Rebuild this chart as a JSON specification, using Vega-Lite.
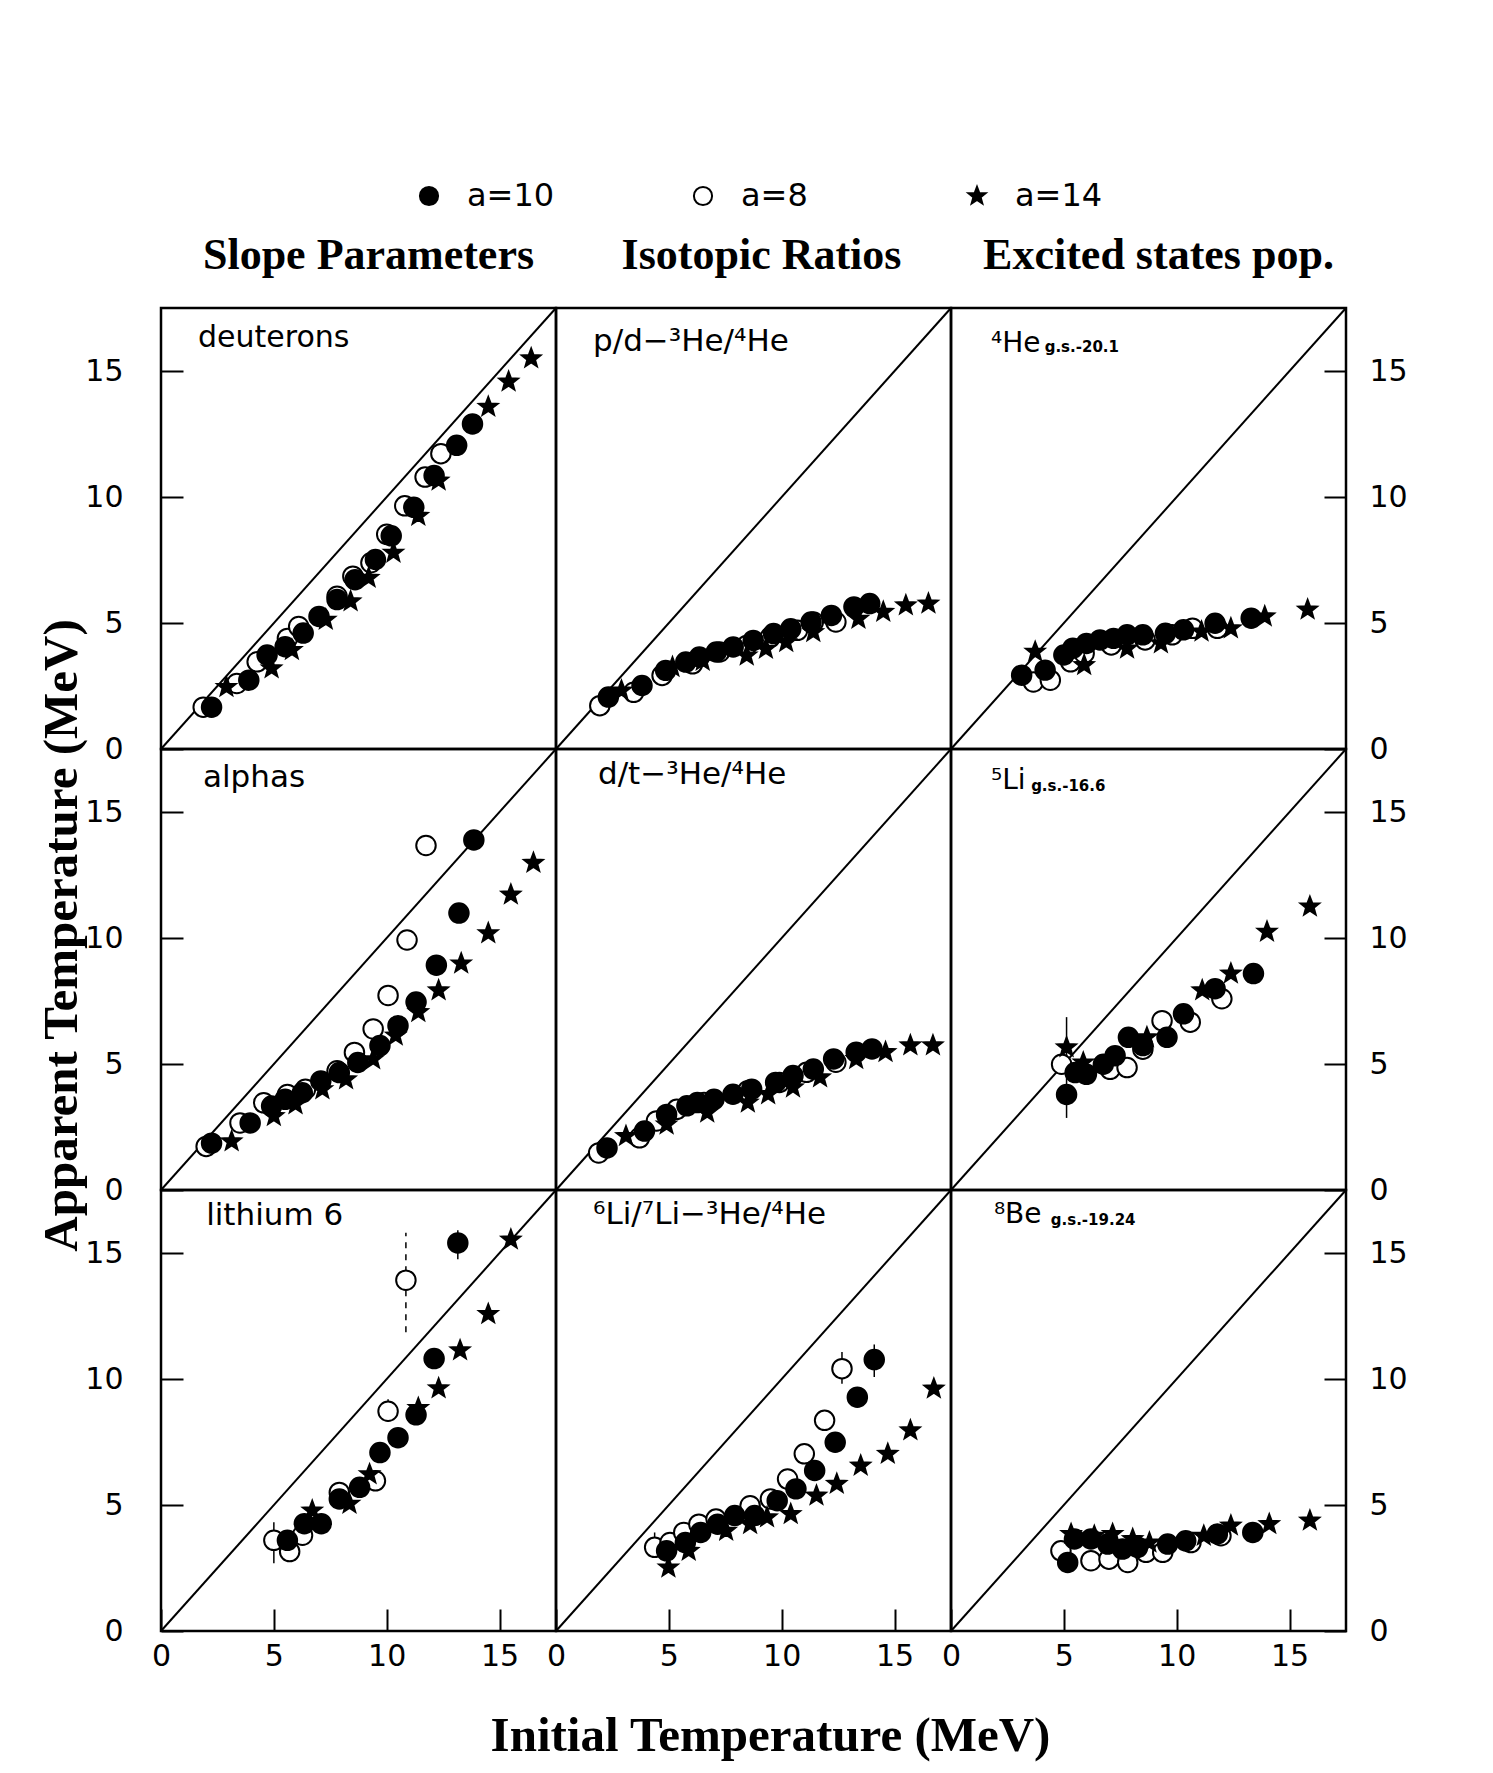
{
  "$schema": "https://vega.github.io/schema/vega-lite/v6.json",
  "background": "white",
  "padding": {"left": 35, "top": 180, "right": 5, "bottom": 5},
  "autosize": {"type": "pad"},
  "config": {
    "view": {"stroke": "black", "strokeWidth": 2.5},
    "axis": {"domain": false, "grid": false, "tickColor": "black", "tickWidth": 2, "labelFont": "DejaVu Sans", "labelFontSize": 30, "labelColor": "black", "labelFlush": false, "labelOverlap": false, "titleColor": "black", "titleFont": "Liberation Serif", "titleFontWeight": "bold", "titleFontSize": 49},
    "title": {"font": "Liberation Serif", "fontWeight": "bold", "fontSize": 44, "color": "black"},
    "legend": {"orient": "none", "direction": "horizontal", "legendX": 252, "legendY": -128, "padding": 0, "symbolSize": 330, "symbolStrokeWidth": 2, "labelFont": "DejaVu Sans", "labelFontSize": 32, "labelColor": "black", "labelOffset": 22, "columnPadding": 132, "gridAlign": "all"}
  },
  "data": {"values": [
    {"p":"d","s":"a=8","x":1.87,"y":1.66},{"p":"d","s":"a=8","x":3.36,"y":2.6},{"p":"d","s":"a=8","x":4.26,"y":3.46},{"p":"d","s":"a=8","x":5.6,"y":4.39},{"p":"d","s":"a=8","x":6.1,"y":4.86},{"p":"d","s":"a=8","x":7.8,"y":6.06},{"p":"d","s":"a=8","x":8.5,"y":6.86},{"p":"d","s":"a=8","x":9.3,"y":7.39},{"p":"d","s":"a=8","x":10.0,"y":8.52},{"p":"d","s":"a=8","x":10.8,"y":9.65},{"p":"d","s":"a=8","x":11.7,"y":10.79},{"p":"d","s":"a=8","x":12.4,"y":11.72},
    {"p":"d","s":"a=14","x":2.9,"y":2.46},{"p":"d","s":"a=14","x":4.9,"y":3.2},{"p":"d","s":"a=14","x":5.8,"y":3.93},{"p":"d","s":"a=14","x":7.3,"y":5.13},{"p":"d","s":"a=14","x":8.4,"y":5.86},{"p":"d","s":"a=14","x":9.2,"y":6.79},{"p":"d","s":"a=14","x":10.3,"y":7.79},{"p":"d","s":"a=14","x":11.4,"y":9.25},{"p":"d","s":"a=14","x":12.3,"y":10.65},{"p":"d","s":"a=14","x":14.5,"y":13.58},{"p":"d","s":"a=14","x":15.4,"y":14.58},{"p":"d","s":"a=14","x":16.4,"y":15.5},
    {"p":"d","s":"a=10","x":2.24,"y":1.66},{"p":"d","s":"a=10","x":3.89,"y":2.73},{"p":"d","s":"a=10","x":4.7,"y":3.73},{"p":"d","s":"a=10","x":5.5,"y":4.06},{"p":"d","s":"a=10","x":6.3,"y":4.6},{"p":"d","s":"a=10","x":7.0,"y":5.26},{"p":"d","s":"a=10","x":7.8,"y":5.93},{"p":"d","s":"a=10","x":8.6,"y":6.72},{"p":"d","s":"a=10","x":9.5,"y":7.52},{"p":"d","s":"a=10","x":10.2,"y":8.46},{"p":"d","s":"a=10","x":11.2,"y":9.59},{"p":"d","s":"a=10","x":12.1,"y":10.85},{"p":"d","s":"a=10","x":13.1,"y":12.05},{"p":"d","s":"a=10","x":13.8,"y":12.9},

    {"p":"pd","s":"a=8","x":1.94,"y":1.72},{"p":"pd","s":"a=8","x":3.44,"y":2.25},{"p":"pd","s":"a=8","x":4.7,"y":2.92},{"p":"pd","s":"a=8","x":6.05,"y":3.38},{"p":"pd","s":"a=8","x":7.25,"y":3.85},{"p":"pd","s":"a=8","x":8.45,"y":4.11},{"p":"pd","s":"a=8","x":9.5,"y":4.44},{"p":"pd","s":"a=8","x":10.7,"y":4.71},{"p":"pd","s":"a=8","x":11.4,"y":5.04},{"p":"pd","s":"a=8","x":12.4,"y":5.04},
    {"p":"pd","s":"a=14","x":2.9,"y":2.32},{"p":"pd","s":"a=14","x":5.16,"y":3.25},{"p":"pd","s":"a=14","x":6.5,"y":3.5},{"p":"pd","s":"a=14","x":8.45,"y":3.71},{"p":"pd","s":"a=14","x":9.3,"y":3.98},{"p":"pd","s":"a=14","x":10.2,"y":4.24},{"p":"pd","s":"a=14","x":11.4,"y":4.64},{"p":"pd","s":"a=14","x":13.4,"y":5.17},{"p":"pd","s":"a=14","x":14.5,"y":5.44},{"p":"pd","s":"a=14","x":15.5,"y":5.7},{"p":"pd","s":"a=14","x":16.5,"y":5.77},
    {"p":"pd","s":"a=10","x":2.32,"y":2.06},{"p":"pd","s":"a=10","x":3.81,"y":2.52},{"p":"pd","s":"a=10","x":4.86,"y":3.12},{"p":"pd","s":"a=10","x":5.75,"y":3.45},{"p":"pd","s":"a=10","x":6.35,"y":3.65},{"p":"pd","s":"a=10","x":7.1,"y":3.85},{"p":"pd","s":"a=10","x":7.85,"y":4.05},{"p":"pd","s":"a=10","x":8.74,"y":4.31},{"p":"pd","s":"a=10","x":9.64,"y":4.58},{"p":"pd","s":"a=10","x":10.4,"y":4.77},{"p":"pd","s":"a=10","x":11.3,"y":5.04},{"p":"pd","s":"a=10","x":12.2,"y":5.3},{"p":"pd","s":"a=10","x":13.2,"y":5.64},{"p":"pd","s":"a=10","x":13.9,"y":5.77},

    {"p":"he4","s":"a=8","x":3.65,"y":2.66},{"p":"he4","s":"a=8","x":4.4,"y":2.73},{"p":"he4","s":"a=8","x":5.3,"y":3.46},{"p":"he4","s":"a=8","x":5.9,"y":3.8},{"p":"he4","s":"a=8","x":7.1,"y":4.13},{"p":"he4","s":"a=8","x":8.6,"y":4.33},{"p":"he4","s":"a=8","x":9.8,"y":4.53},{"p":"he4","s":"a=8","x":10.7,"y":4.79},{"p":"he4","s":"a=8","x":11.8,"y":4.79},
    {"p":"he4","s":"a=14","x":3.73,"y":3.86},{"p":"he4","s":"a=14","x":5.9,"y":3.33},{"p":"he4","s":"a=14","x":7.8,"y":3.99},{"p":"he4","s":"a=14","x":9.3,"y":4.19},{"p":"he4","s":"a=14","x":11.1,"y":4.66},{"p":"he4","s":"a=14","x":12.4,"y":4.79},{"p":"he4","s":"a=14","x":13.9,"y":5.26},{"p":"he4","s":"a=14","x":15.8,"y":5.53},
    {"p":"he4","s":"a=10","x":3.13,"y":2.93},{"p":"he4","s":"a=10","x":4.17,"y":3.13},{"p":"he4","s":"a=10","x":5.0,"y":3.73},{"p":"he4","s":"a=10","x":5.4,"y":4.0},{"p":"he4","s":"a=10","x":6.0,"y":4.19},{"p":"he4","s":"a=10","x":6.6,"y":4.33},{"p":"he4","s":"a=10","x":7.2,"y":4.39},{"p":"he4","s":"a=10","x":7.8,"y":4.53},{"p":"he4","s":"a=10","x":8.5,"y":4.53},{"p":"he4","s":"a=10","x":9.5,"y":4.59},{"p":"he4","s":"a=10","x":10.3,"y":4.73},{"p":"he4","s":"a=10","x":11.7,"y":4.99},{"p":"he4","s":"a=10","x":13.3,"y":5.19},

    {"p":"al","s":"a=8","x":2.0,"y":1.73},{"p":"al","s":"a=8","x":3.5,"y":2.66},{"p":"al","s":"a=8","x":4.55,"y":3.46},{"p":"al","s":"a=8","x":5.6,"y":3.79},{"p":"al","s":"a=8","x":6.4,"y":4.0},{"p":"al","s":"a=8","x":7.8,"y":4.73},{"p":"al","s":"a=8","x":8.57,"y":5.46},{"p":"al","s":"a=8","x":9.4,"y":6.39},{"p":"al","s":"a=8","x":10.06,"y":7.72},{"p":"al","s":"a=8","x":10.9,"y":9.92},{"p":"al","s":"a=8","x":11.74,"y":13.67},
    {"p":"al","s":"a=14","x":3.13,"y":1.93},{"p":"al","s":"a=14","x":5.0,"y":2.93},{"p":"al","s":"a=14","x":5.96,"y":3.4},{"p":"al","s":"a=14","x":7.15,"y":4.0},{"p":"al","s":"a=14","x":8.2,"y":4.39},{"p":"al","s":"a=14","x":9.4,"y":5.19},{"p":"al","s":"a=14","x":10.4,"y":6.13},{"p":"al","s":"a=14","x":11.4,"y":7.06},{"p":"al","s":"a=14","x":12.3,"y":7.92},{"p":"al","s":"a=14","x":13.3,"y":8.99},{"p":"al","s":"a=14","x":14.5,"y":10.19},{"p":"al","s":"a=14","x":15.5,"y":11.72},{"p":"al","s":"a=14","x":16.5,"y":12.98},
    {"p":"al","s":"a=10","x":2.24,"y":1.86},{"p":"al","s":"a=10","x":3.95,"y":2.66},{"p":"al","s":"a=10","x":4.9,"y":3.33},{"p":"al","s":"a=10","x":5.5,"y":3.6},{"p":"al","s":"a=10","x":6.26,"y":3.86},{"p":"al","s":"a=10","x":7.08,"y":4.33},{"p":"al","s":"a=10","x":7.9,"y":4.66},{"p":"al","s":"a=10","x":8.72,"y":5.06},{"p":"al","s":"a=10","x":9.7,"y":5.73},{"p":"al","s":"a=10","x":10.5,"y":6.52},{"p":"al","s":"a=10","x":11.3,"y":7.46},{"p":"al","s":"a=10","x":12.2,"y":8.92},{"p":"al","s":"a=10","x":13.2,"y":10.99},{"p":"al","s":"a=10","x":13.86,"y":13.89},

    {"p":"dt","s":"a=8","x":1.89,"y":1.47},{"p":"dt","s":"a=8","x":3.7,"y":2.07},{"p":"dt","s":"a=8","x":4.45,"y":2.74},{"p":"dt","s":"a=8","x":5.35,"y":3.2},{"p":"dt","s":"a=8","x":6.56,"y":3.47},{"p":"dt","s":"a=8","x":8.5,"y":3.94},{"p":"dt","s":"a=8","x":9.9,"y":4.27},{"p":"dt","s":"a=8","x":11.1,"y":4.67},{"p":"dt","s":"a=8","x":12.4,"y":5.07},
    {"p":"dt","s":"a=14","x":3.1,"y":2.14},{"p":"dt","s":"a=14","x":4.9,"y":2.6},{"p":"dt","s":"a=14","x":6.7,"y":3.07},{"p":"dt","s":"a=14","x":8.5,"y":3.47},{"p":"dt","s":"a=14","x":9.4,"y":3.8},{"p":"dt","s":"a=14","x":10.5,"y":4.07},{"p":"dt","s":"a=14","x":11.7,"y":4.47},{"p":"dt","s":"a=14","x":13.3,"y":5.2},{"p":"dt","s":"a=14","x":14.6,"y":5.47},{"p":"dt","s":"a=14","x":15.7,"y":5.74},{"p":"dt","s":"a=14","x":16.7,"y":5.74},
    {"p":"dt","s":"a=10","x":2.26,"y":1.67},{"p":"dt","s":"a=10","x":3.92,"y":2.34},{"p":"dt","s":"a=10","x":4.9,"y":3.0},{"p":"dt","s":"a=10","x":5.8,"y":3.34},{"p":"dt","s":"a=10","x":6.26,"y":3.47},{"p":"dt","s":"a=10","x":7.0,"y":3.6},{"p":"dt","s":"a=10","x":7.84,"y":3.8},{"p":"dt","s":"a=10","x":8.67,"y":4.0},{"p":"dt","s":"a=10","x":9.73,"y":4.27},{"p":"dt","s":"a=10","x":10.5,"y":4.54},{"p":"dt","s":"a=10","x":11.4,"y":4.8},{"p":"dt","s":"a=10","x":12.3,"y":5.2},{"p":"dt","s":"a=10","x":13.3,"y":5.47},{"p":"dt","s":"a=10","x":14.0,"y":5.6},

    {"p":"li5","s":"a=8","x":4.9,"y":4.99},{"p":"li5","s":"a=8","x":7.05,"y":4.79},{"p":"li5","s":"a=8","x":7.8,"y":4.86},{"p":"li5","s":"a=8","x":8.5,"y":5.59},{"p":"li5","s":"a=8","x":9.35,"y":6.72},{"p":"li5","s":"a=8","x":10.6,"y":6.66},{"p":"li5","s":"a=8","x":12.0,"y":7.59},
    {"p":"li5","s":"a=14","x":5.12,"y":5.66,"lo":4.6,"hi":6.86},{"p":"li5","s":"a=14","x":5.86,"y":5.06},{"p":"li5","s":"a=14","x":8.68,"y":6.06},{"p":"li5","s":"a=14","x":11.13,"y":7.92},{"p":"li5","s":"a=14","x":12.4,"y":8.59},{"p":"li5","s":"a=14","x":14.0,"y":10.25},{"p":"li5","s":"a=14","x":15.9,"y":11.25},
    {"p":"li5","s":"a=10","x":5.12,"y":3.79,"lo":2.86,"hi":4.6},{"p":"li5","s":"a=10","x":5.5,"y":4.66},{"p":"li5","s":"a=10","x":6.0,"y":4.59},{"p":"li5","s":"a=10","x":6.75,"y":4.99},{"p":"li5","s":"a=10","x":7.27,"y":5.33},{"p":"li5","s":"a=10","x":7.86,"y":6.06},{"p":"li5","s":"a=10","x":8.5,"y":5.73},{"p":"li5","s":"a=10","x":9.57,"y":6.06},{"p":"li5","s":"a=10","x":10.3,"y":6.99},{"p":"li5","s":"a=10","x":11.7,"y":7.99},{"p":"li5","s":"a=10","x":13.4,"y":8.59},

    {"p":"li6","s":"a=8","x":5.0,"y":3.6,"lo":2.69,"hi":4.32},{"p":"li6","s":"a=8","x":5.7,"y":3.15},{"p":"li6","s":"a=8","x":6.27,"y":3.8},{"p":"li6","s":"a=8","x":7.9,"y":5.5},{"p":"li6","s":"a=8","x":9.5,"y":5.96},{"p":"li6","s":"a=8","x":10.06,"y":8.72,"lo":8.3,"hi":9.2},{"p":"li6","s":"a=8","x":10.85,"y":13.92,"lo":11.86,"hi":15.8},
    {"p":"li6","s":"a=14","x":6.7,"y":4.78},{"p":"li6","s":"a=14","x":8.35,"y":5.05},{"p":"li6","s":"a=14","x":9.24,"y":6.22},{"p":"li6","s":"a=14","x":11.4,"y":8.85},{"p":"li6","s":"a=14","x":12.3,"y":9.63},{"p":"li6","s":"a=14","x":13.25,"y":11.14},{"p":"li6","s":"a=14","x":14.5,"y":12.58},{"p":"li6","s":"a=14","x":15.5,"y":15.53},
    {"p":"li6","s":"a=10","x":5.6,"y":3.6},{"p":"li6","s":"a=10","x":6.35,"y":4.26},{"p":"li6","s":"a=10","x":7.1,"y":4.26},{"p":"li6","s":"a=10","x":7.9,"y":5.24},{"p":"li6","s":"a=10","x":8.8,"y":5.7},{"p":"li6","s":"a=10","x":9.7,"y":7.08},{"p":"li6","s":"a=10","x":10.5,"y":7.67},{"p":"li6","s":"a=10","x":11.3,"y":8.58},{"p":"li6","s":"a=10","x":12.1,"y":10.81},{"p":"li6","s":"a=10","x":13.15,"y":15.4,"lo":14.75,"hi":15.9},

    {"p":"lili","s":"a=8","x":4.37,"y":3.32,"lo":3.0,"hi":3.91},{"p":"lili","s":"a=8","x":5.05,"y":3.51},{"p":"lili","s":"a=8","x":5.66,"y":3.91},{"p":"lili","s":"a=8","x":6.33,"y":4.24},{"p":"lili","s":"a=8","x":7.09,"y":4.44},{"p":"lili","s":"a=8","x":8.6,"y":4.97},{"p":"lili","s":"a=8","x":9.5,"y":5.24},{"p":"lili","s":"a=8","x":10.26,"y":6.03},{"p":"lili","s":"a=8","x":11.0,"y":7.03},{"p":"lili","s":"a=8","x":11.9,"y":8.36},{"p":"lili","s":"a=8","x":12.67,"y":10.41,"lo":9.81,"hi":11.07},
    {"p":"lili","s":"a=14","x":4.98,"y":2.52},{"p":"lili","s":"a=14","x":5.88,"y":3.18},{"p":"lili","s":"a=14","x":7.54,"y":3.98},{"p":"lili","s":"a=14","x":8.6,"y":4.24},{"p":"lili","s":"a=14","x":9.35,"y":4.51},{"p":"lili","s":"a=14","x":10.4,"y":4.64},{"p":"lili","s":"a=14","x":11.54,"y":5.37},{"p":"lili","s":"a=14","x":12.44,"y":5.84},{"p":"lili","s":"a=14","x":13.5,"y":6.56},{"p":"lili","s":"a=14","x":14.7,"y":7.03},{"p":"lili","s":"a=14","x":15.7,"y":7.96},{"p":"lili","s":"a=14","x":16.74,"y":9.62},
    {"p":"lili","s":"a=10","x":4.9,"y":3.18},{"p":"lili","s":"a=10","x":5.73,"y":3.51},{"p":"lili","s":"a=10","x":6.41,"y":3.91},{"p":"lili","s":"a=10","x":7.16,"y":4.24},{"p":"lili","s":"a=10","x":7.92,"y":4.58},{"p":"lili","s":"a=10","x":8.8,"y":4.58},{"p":"lili","s":"a=10","x":9.8,"y":5.17},{"p":"lili","s":"a=10","x":10.63,"y":5.64},{"p":"lili","s":"a=10","x":11.46,"y":6.37},{"p":"lili","s":"a=10","x":12.37,"y":7.49},{"p":"lili","s":"a=10","x":13.35,"y":9.28},{"p":"lili","s":"a=10","x":14.1,"y":10.77,"lo":10.08,"hi":11.37},

    {"p":"be8","s":"a=8","x":4.87,"y":3.18},{"p":"be8","s":"a=8","x":6.2,"y":2.79},{"p":"be8","s":"a=8","x":7.0,"y":2.85},{"p":"be8","s":"a=8","x":7.83,"y":2.72},{"p":"be8","s":"a=8","x":8.64,"y":3.12},{"p":"be8","s":"a=8","x":9.38,"y":3.12},{"p":"be8","s":"a=8","x":10.63,"y":3.51},{"p":"be8","s":"a=8","x":11.96,"y":3.78},
    {"p":"be8","s":"a=14","x":5.32,"y":3.85},{"p":"be8","s":"a=14","x":6.35,"y":3.78},{"p":"be8","s":"a=14","x":7.16,"y":3.85},{"p":"be8","s":"a=14","x":8.05,"y":3.65},{"p":"be8","s":"a=14","x":8.79,"y":3.51},{"p":"be8","s":"a=14","x":11.2,"y":3.78},{"p":"be8","s":"a=14","x":12.4,"y":4.18},{"p":"be8","s":"a=14","x":14.1,"y":4.24},{"p":"be8","s":"a=14","x":15.9,"y":4.38},
    {"p":"be8","s":"a=10","x":5.17,"y":2.72},{"p":"be8","s":"a=10","x":5.47,"y":3.65},{"p":"be8","s":"a=10","x":6.2,"y":3.65},{"p":"be8","s":"a=10","x":6.94,"y":3.45},{"p":"be8","s":"a=10","x":7.6,"y":3.25},{"p":"be8","s":"a=10","x":8.27,"y":3.32},{"p":"be8","s":"a=10","x":9.6,"y":3.45},{"p":"be8","s":"a=10","x":10.4,"y":3.58},{"p":"be8","s":"a=10","x":11.8,"y":3.85},{"p":"be8","s":"a=10","x":13.37,"y":3.91}
  ]},
  "columns": 3,
  "spacing": 0,
  "bounds": "flush",
  "concat": [
    {
      "width": 395, "height": 441,
      "title": {"text": "Slope Parameters", "offset": 36, "dx": 10, "dy": 45, "baseline": "alphabetic"},
      "layer": [
        {"data": {"values": [{"x": 0, "y": 0}, {"x": 17.5, "y": 17.5}]}, "mark": {"type": "line", "color": "black", "strokeWidth": 2},
         "encoding": {"x": {"field": "x", "type": "quantitative", "scale": {"domain": [0, 17.5], "nice": false, "zero": false}, "axis": null},
                      "y": {"field": "y", "type": "quantitative", "scale": {"domain": [0, 17.5], "nice": false, "zero": false}, "axis": {"orient": "left", "values": [0, 5, 10, 15], "tickSize": -22, "labelPadding": 60, "title": null}}}},
        {"transform": [{"filter": "datum.p === 'd'"}], "mark": {"type": "point", "filled": true, "strokeWidth": 2, "opacity": 1, "size": 380},
         "encoding": {"x": {"field": "x", "type": "quantitative", "scale": {"domain": [0, 17.5], "nice": false, "zero": false}, "axis": null},
                      "y": {"field": "y", "type": "quantitative", "scale": {"domain": [0, 17.5], "nice": false, "zero": false}, "axis": {"orient": "left", "values": [0, 5, 10, 15], "tickSize": -22, "labelPadding": 60, "title": null}},
                      "shape": {"field": "s", "type": "nominal", "scale": {"domain": ["a=10", "a=8", "a=14"], "range": ["circle", "circle", "M0,-1L0.247,-0.34L0.951,-0.309L0.399,0.13L0.588,0.809L0,0.42L-0.588,0.809L-0.399,0.13L-0.951,-0.309L-0.247,-0.34Z"]}, "legend": {"title": null}},
                      "fill": {"field": "s", "type": "nominal", "scale": {"domain": ["a=10", "a=8", "a=14"], "range": ["black", "white", "black"]}, "legend": {"title": null}},
                      "stroke": {"field": "s", "type": "nominal", "scale": {"domain": ["a=10", "a=8", "a=14"], "range": ["black", "black", "black"]}, "legend": {"title": null}}}},
        {"data": {"values": [{"t": "deuterons"}]}, "mark": {"type": "text", "font": "DejaVu Sans", "fontSize": 30, "align": "left", "baseline": "alphabetic", "color": "black"},
         "encoding": {"text": {"field": "t"}, "x": {"datum": 1.64, "type": "quantitative", "axis": null}, "y": {"datum": 15.95, "type": "quantitative", "axis": {"orient": "left", "values": [0, 5, 10, 15], "tickSize": -22, "labelPadding": 60, "title": null}}}}
      ]
    },
    {
      "width": 395, "height": 441,
      "title": {"text": "Isotopic Ratios", "offset": 36, "dx": 8, "dy": 45, "baseline": "alphabetic"},
      "layer": [
        {"data": {"values": [{"x": 0, "y": 0}, {"x": 17.5, "y": 17.5}]}, "mark": {"type": "line", "color": "black", "strokeWidth": 2},
         "encoding": {"x": {"field": "x", "type": "quantitative", "scale": {"domain": [0, 17.5], "nice": false, "zero": false}, "axis": null},
                      "y": {"field": "y", "type": "quantitative", "scale": {"domain": [0, 17.5], "nice": false, "zero": false}, "axis": null}}},
        {"transform": [{"filter": "datum.p === 'pd'"}], "mark": {"type": "point", "filled": true, "strokeWidth": 2, "opacity": 1, "size": 380},
         "encoding": {"x": {"field": "x", "type": "quantitative", "scale": {"domain": [0, 17.5], "nice": false, "zero": false}, "axis": null},
                      "y": {"field": "y", "type": "quantitative", "scale": {"domain": [0, 17.5], "nice": false, "zero": false}, "axis": null},
                      "shape": {"field": "s", "type": "nominal", "scale": {"domain": ["a=10", "a=8", "a=14"], "range": ["circle", "circle", "M0,-1L0.247,-0.34L0.951,-0.309L0.399,0.13L0.588,0.809L0,0.42L-0.588,0.809L-0.399,0.13L-0.951,-0.309L-0.247,-0.34Z"]}, "legend": {"title": null}},
                      "fill": {"field": "s", "type": "nominal", "scale": {"domain": ["a=10", "a=8", "a=14"], "range": ["black", "white", "black"]}, "legend": {"title": null}},
                      "stroke": {"field": "s", "type": "nominal", "scale": {"domain": ["a=10", "a=8", "a=14"], "range": ["black", "black", "black"]}, "legend": {"title": null}}}},
        {"data": {"values": [{"t": "p/d−³He/⁴He"}]}, "mark": {"type": "text", "font": "DejaVu Sans", "fontSize": 31, "align": "left", "baseline": "alphabetic", "color": "black"},
         "encoding": {"text": {"field": "t"}, "x": {"datum": 1.64, "type": "quantitative", "axis": null}, "y": {"datum": 15.8, "type": "quantitative", "axis": null}}}
      ]
    },
    {
      "width": 395, "height": 441,
      "title": {"text": "Excited states pop.", "offset": 36, "dx": 10, "dy": 45, "baseline": "alphabetic"},
      "layer": [
        {"data": {"values": [{"x": 0, "y": 0}, {"x": 17.5, "y": 17.5}]}, "mark": {"type": "line", "color": "black", "strokeWidth": 2},
         "encoding": {"x": {"field": "x", "type": "quantitative", "scale": {"domain": [0, 17.5], "nice": false, "zero": false}, "axis": null},
                      "y": {"field": "y", "type": "quantitative", "scale": {"domain": [0, 17.5], "nice": false, "zero": false}, "axis": {"orient": "right", "values": [0, 5, 10, 15], "tickSize": -22, "labelPadding": 45, "title": null}}}},
        {"transform": [{"filter": "datum.p === 'he4'"}], "mark": {"type": "point", "filled": true, "strokeWidth": 2, "opacity": 1, "size": 380},
         "encoding": {"x": {"field": "x", "type": "quantitative", "scale": {"domain": [0, 17.5], "nice": false, "zero": false}, "axis": null},
                      "y": {"field": "y", "type": "quantitative", "scale": {"domain": [0, 17.5], "nice": false, "zero": false}, "axis": {"orient": "right", "values": [0, 5, 10, 15], "tickSize": -22, "labelPadding": 45, "title": null}},
                      "shape": {"field": "s", "type": "nominal", "scale": {"domain": ["a=10", "a=8", "a=14"], "range": ["circle", "circle", "M0,-1L0.247,-0.34L0.951,-0.309L0.399,0.13L0.588,0.809L0,0.42L-0.588,0.809L-0.399,0.13L-0.951,-0.309L-0.247,-0.34Z"]}, "legend": {"title": null}},
                      "fill": {"field": "s", "type": "nominal", "scale": {"domain": ["a=10", "a=8", "a=14"], "range": ["black", "white", "black"]}, "legend": {"title": null}},
                      "stroke": {"field": "s", "type": "nominal", "scale": {"domain": ["a=10", "a=8", "a=14"], "range": ["black", "black", "black"]}, "legend": {"title": null}}}},
        {"data": {"values": [{"t": "⁴He"}]}, "mark": {"type": "text", "font": "DejaVu Sans", "fontSize": 28, "align": "left", "baseline": "alphabetic", "color": "black"},
         "encoding": {"text": {"field": "t"}, "x": {"datum": 1.77, "type": "quantitative", "axis": null}, "y": {"datum": 15.75, "type": "quantitative", "axis": {"orient": "right", "values": [0, 5, 10, 15], "tickSize": -22, "labelPadding": 45, "title": null}}}},
        {"data": {"values": [{"t": "g.s.-20.1"}]}, "mark": {"type": "text", "font": "DejaVu Sans", "fontWeight": "bold", "fontSize": 15, "align": "left", "baseline": "alphabetic", "color": "black"},
         "encoding": {"text": {"field": "t"}, "x": {"datum": 4.15, "type": "quantitative", "axis": null}, "y": {"datum": 15.75, "type": "quantitative", "axis": {"orient": "right", "values": [0, 5, 10, 15], "tickSize": -22, "labelPadding": 45, "title": null}}}}
      ]
    },
    {
      "width": 395, "height": 441,
      "layer": [
        {"data": {"values": [{"x": 0, "y": 0}, {"x": 17.5, "y": 17.5}]}, "mark": {"type": "line", "color": "black", "strokeWidth": 2},
         "encoding": {"x": {"field": "x", "type": "quantitative", "scale": {"domain": [0, 17.5], "nice": false, "zero": false}, "axis": null},
                      "y": {"field": "y", "type": "quantitative", "scale": {"domain": [0, 17.5], "nice": false, "zero": false}, "axis": {"orient": "left", "values": [0, 5, 10, 15], "tickSize": -22, "labelPadding": 60, "title": "Apparent Temperature (MeV)", "titleX": -100, "titleY": 186, "titleAngle": 270, "titleAlign": "center", "titleBaseline": "middle"}}}},
        {"transform": [{"filter": "datum.p === 'al'"}], "mark": {"type": "point", "filled": true, "strokeWidth": 2, "opacity": 1, "size": 380},
         "encoding": {"x": {"field": "x", "type": "quantitative", "scale": {"domain": [0, 17.5], "nice": false, "zero": false}, "axis": null},
                      "y": {"field": "y", "type": "quantitative", "scale": {"domain": [0, 17.5], "nice": false, "zero": false}, "axis": {"orient": "left", "values": [0, 5, 10, 15], "tickSize": -22, "labelPadding": 60, "title": "Apparent Temperature (MeV)", "titleX": -100, "titleY": 186, "titleAngle": 270, "titleAlign": "center", "titleBaseline": "middle"}},
                      "shape": {"field": "s", "type": "nominal", "scale": {"domain": ["a=10", "a=8", "a=14"], "range": ["circle", "circle", "M0,-1L0.247,-0.34L0.951,-0.309L0.399,0.13L0.588,0.809L0,0.42L-0.588,0.809L-0.399,0.13L-0.951,-0.309L-0.247,-0.34Z"]}, "legend": {"title": null}},
                      "fill": {"field": "s", "type": "nominal", "scale": {"domain": ["a=10", "a=8", "a=14"], "range": ["black", "white", "black"]}, "legend": {"title": null}},
                      "stroke": {"field": "s", "type": "nominal", "scale": {"domain": ["a=10", "a=8", "a=14"], "range": ["black", "black", "black"]}, "legend": {"title": null}}}},
        {"data": {"values": [{"t": "alphas"}]}, "mark": {"type": "text", "font": "DejaVu Sans", "fontSize": 31, "align": "left", "baseline": "alphabetic", "color": "black"},
         "encoding": {"text": {"field": "t"}, "x": {"datum": 1.86, "type": "quantitative", "axis": null}, "y": {"datum": 16.0, "type": "quantitative", "axis": {"orient": "left", "values": [0, 5, 10, 15], "tickSize": -22, "labelPadding": 60, "title": "Apparent Temperature (MeV)", "titleX": -100, "titleY": 186, "titleAngle": 270, "titleAlign": "center", "titleBaseline": "middle"}}}}
      ]
    },
    {
      "width": 395, "height": 441,
      "layer": [
        {"data": {"values": [{"x": 0, "y": 0}, {"x": 17.5, "y": 17.5}]}, "mark": {"type": "line", "color": "black", "strokeWidth": 2},
         "encoding": {"x": {"field": "x", "type": "quantitative", "scale": {"domain": [0, 17.5], "nice": false, "zero": false}, "axis": null},
                      "y": {"field": "y", "type": "quantitative", "scale": {"domain": [0, 17.5], "nice": false, "zero": false}, "axis": null}}},
        {"transform": [{"filter": "datum.p === 'dt'"}], "mark": {"type": "point", "filled": true, "strokeWidth": 2, "opacity": 1, "size": 380},
         "encoding": {"x": {"field": "x", "type": "quantitative", "scale": {"domain": [0, 17.5], "nice": false, "zero": false}, "axis": null},
                      "y": {"field": "y", "type": "quantitative", "scale": {"domain": [0, 17.5], "nice": false, "zero": false}, "axis": null},
                      "shape": {"field": "s", "type": "nominal", "scale": {"domain": ["a=10", "a=8", "a=14"], "range": ["circle", "circle", "M0,-1L0.247,-0.34L0.951,-0.309L0.399,0.13L0.588,0.809L0,0.42L-0.588,0.809L-0.399,0.13L-0.951,-0.309L-0.247,-0.34Z"]}, "legend": {"title": null}},
                      "fill": {"field": "s", "type": "nominal", "scale": {"domain": ["a=10", "a=8", "a=14"], "range": ["black", "white", "black"]}, "legend": {"title": null}},
                      "stroke": {"field": "s", "type": "nominal", "scale": {"domain": ["a=10", "a=8", "a=14"], "range": ["black", "black", "black"]}, "legend": {"title": null}}}},
        {"data": {"values": [{"t": "d/t−³He/⁴He"}]}, "mark": {"type": "text", "font": "DejaVu Sans", "fontSize": 31, "align": "left", "baseline": "alphabetic", "color": "black"},
         "encoding": {"text": {"field": "t"}, "x": {"datum": 1.86, "type": "quantitative", "axis": null}, "y": {"datum": 16.1, "type": "quantitative", "axis": null}}}
      ]
    },
    {
      "width": 395, "height": 441,
      "layer": [
        {"data": {"values": [{"x": 0, "y": 0}, {"x": 17.5, "y": 17.5}]}, "mark": {"type": "line", "color": "black", "strokeWidth": 2},
         "encoding": {"x": {"field": "x", "type": "quantitative", "scale": {"domain": [0, 17.5], "nice": false, "zero": false}, "axis": null},
                      "y": {"field": "y", "type": "quantitative", "scale": {"domain": [0, 17.5], "nice": false, "zero": false}, "axis": {"orient": "right", "values": [0, 5, 10, 15], "tickSize": -22, "labelPadding": 45, "title": null}}}},
        {"transform": [{"filter": "datum.p === 'li5' && isValid(datum.lo)"}], "mark": {"type": "rule", "color": "black", "strokeWidth": 1.5},
         "encoding": {"x": {"field": "x", "type": "quantitative", "scale": {"domain": [0, 17.5], "nice": false, "zero": false}, "axis": null},
                      "y": {"field": "lo", "type": "quantitative", "scale": {"domain": [0, 17.5], "nice": false, "zero": false}, "axis": {"orient": "right", "values": [0, 5, 10, 15], "tickSize": -22, "labelPadding": 45, "title": null}}, "y2": {"field": "hi"}}},
        {"transform": [{"filter": "datum.p === 'li5'"}], "mark": {"type": "point", "filled": true, "strokeWidth": 2, "opacity": 1, "size": 380},
         "encoding": {"x": {"field": "x", "type": "quantitative", "scale": {"domain": [0, 17.5], "nice": false, "zero": false}, "axis": null},
                      "y": {"field": "y", "type": "quantitative", "scale": {"domain": [0, 17.5], "nice": false, "zero": false}, "axis": {"orient": "right", "values": [0, 5, 10, 15], "tickSize": -22, "labelPadding": 45, "title": null}},
                      "shape": {"field": "s", "type": "nominal", "scale": {"domain": ["a=10", "a=8", "a=14"], "range": ["circle", "circle", "M0,-1L0.247,-0.34L0.951,-0.309L0.399,0.13L0.588,0.809L0,0.42L-0.588,0.809L-0.399,0.13L-0.951,-0.309L-0.247,-0.34Z"]}, "legend": {"title": null}},
                      "fill": {"field": "s", "type": "nominal", "scale": {"domain": ["a=10", "a=8", "a=14"], "range": ["black", "white", "black"]}, "legend": {"title": null}},
                      "stroke": {"field": "s", "type": "nominal", "scale": {"domain": ["a=10", "a=8", "a=14"], "range": ["black", "black", "black"]}, "legend": {"title": null}}}},
        {"data": {"values": [{"t": "⁵Li"}]}, "mark": {"type": "text", "font": "DejaVu Sans", "fontSize": 28, "align": "left", "baseline": "alphabetic", "color": "black"},
         "encoding": {"text": {"field": "t"}, "x": {"datum": 1.77, "type": "quantitative", "axis": null}, "y": {"datum": 15.92, "type": "quantitative", "axis": {"orient": "right", "values": [0, 5, 10, 15], "tickSize": -22, "labelPadding": 45, "title": null}}}},
        {"data": {"values": [{"t": "g.s.-16.6"}]}, "mark": {"type": "text", "font": "DejaVu Sans", "fontWeight": "bold", "fontSize": 15, "align": "left", "baseline": "alphabetic", "color": "black"},
         "encoding": {"text": {"field": "t"}, "x": {"datum": 3.55, "type": "quantitative", "axis": null}, "y": {"datum": 15.85, "type": "quantitative", "axis": {"orient": "right", "values": [0, 5, 10, 15], "tickSize": -22, "labelPadding": 45, "title": null}}}}
      ]
    },
    {
      "width": 395, "height": 441,
      "layer": [
        {"data": {"values": [{"x": 0, "y": 0}, {"x": 17.5, "y": 17.5}]}, "mark": {"type": "line", "color": "black", "strokeWidth": 2},
         "encoding": {"x": {"field": "x", "type": "quantitative", "scale": {"domain": [0, 17.5], "nice": false, "zero": false}, "axis": {"orient": "bottom", "values": [0, 5, 10, 15], "tickSize": -22, "labelPadding": 32, "title": null}},
                      "y": {"field": "y", "type": "quantitative", "scale": {"domain": [0, 17.5], "nice": false, "zero": false}, "axis": {"orient": "left", "values": [0, 5, 10, 15], "tickSize": -22, "labelPadding": 60, "title": null}}}},
        {"transform": [{"filter": "datum.p === 'li6' && isValid(datum.lo)"}], "mark": {"type": "rule", "color": "black", "strokeWidth": 1.5},
         "encoding": {"x": {"field": "x", "type": "quantitative", "scale": {"domain": [0, 17.5], "nice": false, "zero": false}, "axis": {"orient": "bottom", "values": [0, 5, 10, 15], "tickSize": -22, "labelPadding": 32, "title": null}},
                      "y": {"field": "lo", "type": "quantitative", "scale": {"domain": [0, 17.5], "nice": false, "zero": false}, "axis": {"orient": "left", "values": [0, 5, 10, 15], "tickSize": -22, "labelPadding": 60, "title": null}}, "y2": {"field": "hi"},
                      "strokeDash": {"condition": {"test": "datum.y > 12 && datum.s === 'a=8'", "value": [6, 6]}, "value": [1, 0]}}},
        {"transform": [{"filter": "datum.p === 'li6'"}], "mark": {"type": "point", "filled": true, "strokeWidth": 2, "opacity": 1, "size": 380},
         "encoding": {"x": {"field": "x", "type": "quantitative", "scale": {"domain": [0, 17.5], "nice": false, "zero": false}, "axis": {"orient": "bottom", "values": [0, 5, 10, 15], "tickSize": -22, "labelPadding": 32, "title": null}},
                      "y": {"field": "y", "type": "quantitative", "scale": {"domain": [0, 17.5], "nice": false, "zero": false}, "axis": {"orient": "left", "values": [0, 5, 10, 15], "tickSize": -22, "labelPadding": 60, "title": null}},
                      "shape": {"field": "s", "type": "nominal", "scale": {"domain": ["a=10", "a=8", "a=14"], "range": ["circle", "circle", "M0,-1L0.247,-0.34L0.951,-0.309L0.399,0.13L0.588,0.809L0,0.42L-0.588,0.809L-0.399,0.13L-0.951,-0.309L-0.247,-0.34Z"]}, "legend": {"title": null}},
                      "fill": {"field": "s", "type": "nominal", "scale": {"domain": ["a=10", "a=8", "a=14"], "range": ["black", "white", "black"]}, "legend": {"title": null}},
                      "stroke": {"field": "s", "type": "nominal", "scale": {"domain": ["a=10", "a=8", "a=14"], "range": ["black", "black", "black"]}, "legend": {"title": null}}}},
        {"data": {"values": [{"t": "lithium 6"}]}, "mark": {"type": "text", "font": "DejaVu Sans", "fontSize": 31, "align": "left", "baseline": "alphabetic", "color": "black"},
         "encoding": {"text": {"field": "t"}, "x": {"datum": 2.0, "type": "quantitative", "axis": {"orient": "bottom", "values": [0, 5, 10, 15], "tickSize": -22, "labelPadding": 32, "title": null}}, "y": {"datum": 16.1, "type": "quantitative", "axis": {"orient": "left", "values": [0, 5, 10, 15], "tickSize": -22, "labelPadding": 60, "title": null}}}}
      ]
    },
    {
      "width": 395, "height": 441,
      "layer": [
        {"data": {"values": [{"x": 0, "y": 0}, {"x": 17.5, "y": 17.5}]}, "mark": {"type": "line", "color": "black", "strokeWidth": 2},
         "encoding": {"x": {"field": "x", "type": "quantitative", "scale": {"domain": [0, 17.5], "nice": false, "zero": false}, "axis": {"orient": "bottom", "values": [0, 5, 10, 15], "tickSize": -22, "labelPadding": 32, "title": "Initial Temperature (MeV)", "titleX": 214, "titleY": 104, "titleAngle": 0, "titleAlign": "center", "titleBaseline": "middle"}},
                      "y": {"field": "y", "type": "quantitative", "scale": {"domain": [0, 17.5], "nice": false, "zero": false}, "axis": null}}},
        {"transform": [{"filter": "datum.p === 'lili' && isValid(datum.lo)"}], "mark": {"type": "rule", "color": "black", "strokeWidth": 1.5},
         "encoding": {"x": {"field": "x", "type": "quantitative", "scale": {"domain": [0, 17.5], "nice": false, "zero": false}, "axis": {"orient": "bottom", "values": [0, 5, 10, 15], "tickSize": -22, "labelPadding": 32, "title": "Initial Temperature (MeV)", "titleX": 214, "titleY": 104, "titleAngle": 0, "titleAlign": "center", "titleBaseline": "middle"}},
                      "y": {"field": "lo", "type": "quantitative", "scale": {"domain": [0, 17.5], "nice": false, "zero": false}, "axis": null}, "y2": {"field": "hi"}}},
        {"transform": [{"filter": "datum.p === 'lili'"}], "mark": {"type": "point", "filled": true, "strokeWidth": 2, "opacity": 1, "size": 380},
         "encoding": {"x": {"field": "x", "type": "quantitative", "scale": {"domain": [0, 17.5], "nice": false, "zero": false}, "axis": {"orient": "bottom", "values": [0, 5, 10, 15], "tickSize": -22, "labelPadding": 32, "title": "Initial Temperature (MeV)", "titleX": 214, "titleY": 104, "titleAngle": 0, "titleAlign": "center", "titleBaseline": "middle"}},
                      "y": {"field": "y", "type": "quantitative", "scale": {"domain": [0, 17.5], "nice": false, "zero": false}, "axis": null},
                      "shape": {"field": "s", "type": "nominal", "scale": {"domain": ["a=10", "a=8", "a=14"], "range": ["circle", "circle", "M0,-1L0.247,-0.34L0.951,-0.309L0.399,0.13L0.588,0.809L0,0.42L-0.588,0.809L-0.399,0.13L-0.951,-0.309L-0.247,-0.34Z"]}, "legend": {"title": null}},
                      "fill": {"field": "s", "type": "nominal", "scale": {"domain": ["a=10", "a=8", "a=14"], "range": ["black", "white", "black"]}, "legend": {"title": null}},
                      "stroke": {"field": "s", "type": "nominal", "scale": {"domain": ["a=10", "a=8", "a=14"], "range": ["black", "black", "black"]}, "legend": {"title": null}}}},
        {"data": {"values": [{"t": "⁶Li/⁷Li−³He/⁴He"}]}, "mark": {"type": "text", "font": "DejaVu Sans", "fontSize": 31, "align": "left", "baseline": "alphabetic", "color": "black"},
         "encoding": {"text": {"field": "t"}, "x": {"datum": 1.64, "type": "quantitative", "axis": {"orient": "bottom", "values": [0, 5, 10, 15], "tickSize": -22, "labelPadding": 32, "title": "Initial Temperature (MeV)", "titleX": 214, "titleY": 104, "titleAngle": 0, "titleAlign": "center", "titleBaseline": "middle"}}, "y": {"datum": 16.15, "type": "quantitative", "axis": null}}}
      ]
    },
    {
      "width": 395, "height": 441,
      "layer": [
        {"data": {"values": [{"x": 0, "y": 0}, {"x": 17.5, "y": 17.5}]}, "mark": {"type": "line", "color": "black", "strokeWidth": 2},
         "encoding": {"x": {"field": "x", "type": "quantitative", "scale": {"domain": [0, 17.5], "nice": false, "zero": false}, "axis": {"orient": "bottom", "values": [0, 5, 10, 15], "tickSize": -22, "labelPadding": 32, "title": null}},
                      "y": {"field": "y", "type": "quantitative", "scale": {"domain": [0, 17.5], "nice": false, "zero": false}, "axis": {"orient": "right", "values": [0, 5, 10, 15], "tickSize": -22, "labelPadding": 45, "title": null}}}},
        {"transform": [{"filter": "datum.p === 'be8'"}], "mark": {"type": "point", "filled": true, "strokeWidth": 2, "opacity": 1, "size": 380},
         "encoding": {"x": {"field": "x", "type": "quantitative", "scale": {"domain": [0, 17.5], "nice": false, "zero": false}, "axis": {"orient": "bottom", "values": [0, 5, 10, 15], "tickSize": -22, "labelPadding": 32, "title": null}},
                      "y": {"field": "y", "type": "quantitative", "scale": {"domain": [0, 17.5], "nice": false, "zero": false}, "axis": {"orient": "right", "values": [0, 5, 10, 15], "tickSize": -22, "labelPadding": 45, "title": null}},
                      "shape": {"field": "s", "type": "nominal", "scale": {"domain": ["a=10", "a=8", "a=14"], "range": ["circle", "circle", "M0,-1L0.247,-0.34L0.951,-0.309L0.399,0.13L0.588,0.809L0,0.42L-0.588,0.809L-0.399,0.13L-0.951,-0.309L-0.247,-0.34Z"]}, "legend": {"title": null}},
                      "fill": {"field": "s", "type": "nominal", "scale": {"domain": ["a=10", "a=8", "a=14"], "range": ["black", "white", "black"]}, "legend": {"title": null}},
                      "stroke": {"field": "s", "type": "nominal", "scale": {"domain": ["a=10", "a=8", "a=14"], "range": ["black", "black", "black"]}, "legend": {"title": null}}}},
        {"data": {"values": [{"t": "⁸Be"}]}, "mark": {"type": "text", "font": "DejaVu Sans", "fontSize": 28, "align": "left", "baseline": "alphabetic", "color": "black"},
         "encoding": {"text": {"field": "t"}, "x": {"datum": 1.9, "type": "quantitative", "axis": {"orient": "bottom", "values": [0, 5, 10, 15], "tickSize": -22, "labelPadding": 32, "title": null}}, "y": {"datum": 16.2, "type": "quantitative", "axis": {"orient": "right", "values": [0, 5, 10, 15], "tickSize": -22, "labelPadding": 45, "title": null}}}},
        {"data": {"values": [{"t": "g.s.-19.24"}]}, "mark": {"type": "text", "font": "DejaVu Sans", "fontWeight": "bold", "fontSize": 15, "align": "left", "baseline": "alphabetic", "color": "black"},
         "encoding": {"text": {"field": "t"}, "x": {"datum": 4.42, "type": "quantitative", "axis": {"orient": "bottom", "values": [0, 5, 10, 15], "tickSize": -22, "labelPadding": 32, "title": null}}, "y": {"datum": 16.1, "type": "quantitative", "axis": {"orient": "right", "values": [0, 5, 10, 15], "tickSize": -22, "labelPadding": 45, "title": null}}}}
      ]
    }
  ]
}
